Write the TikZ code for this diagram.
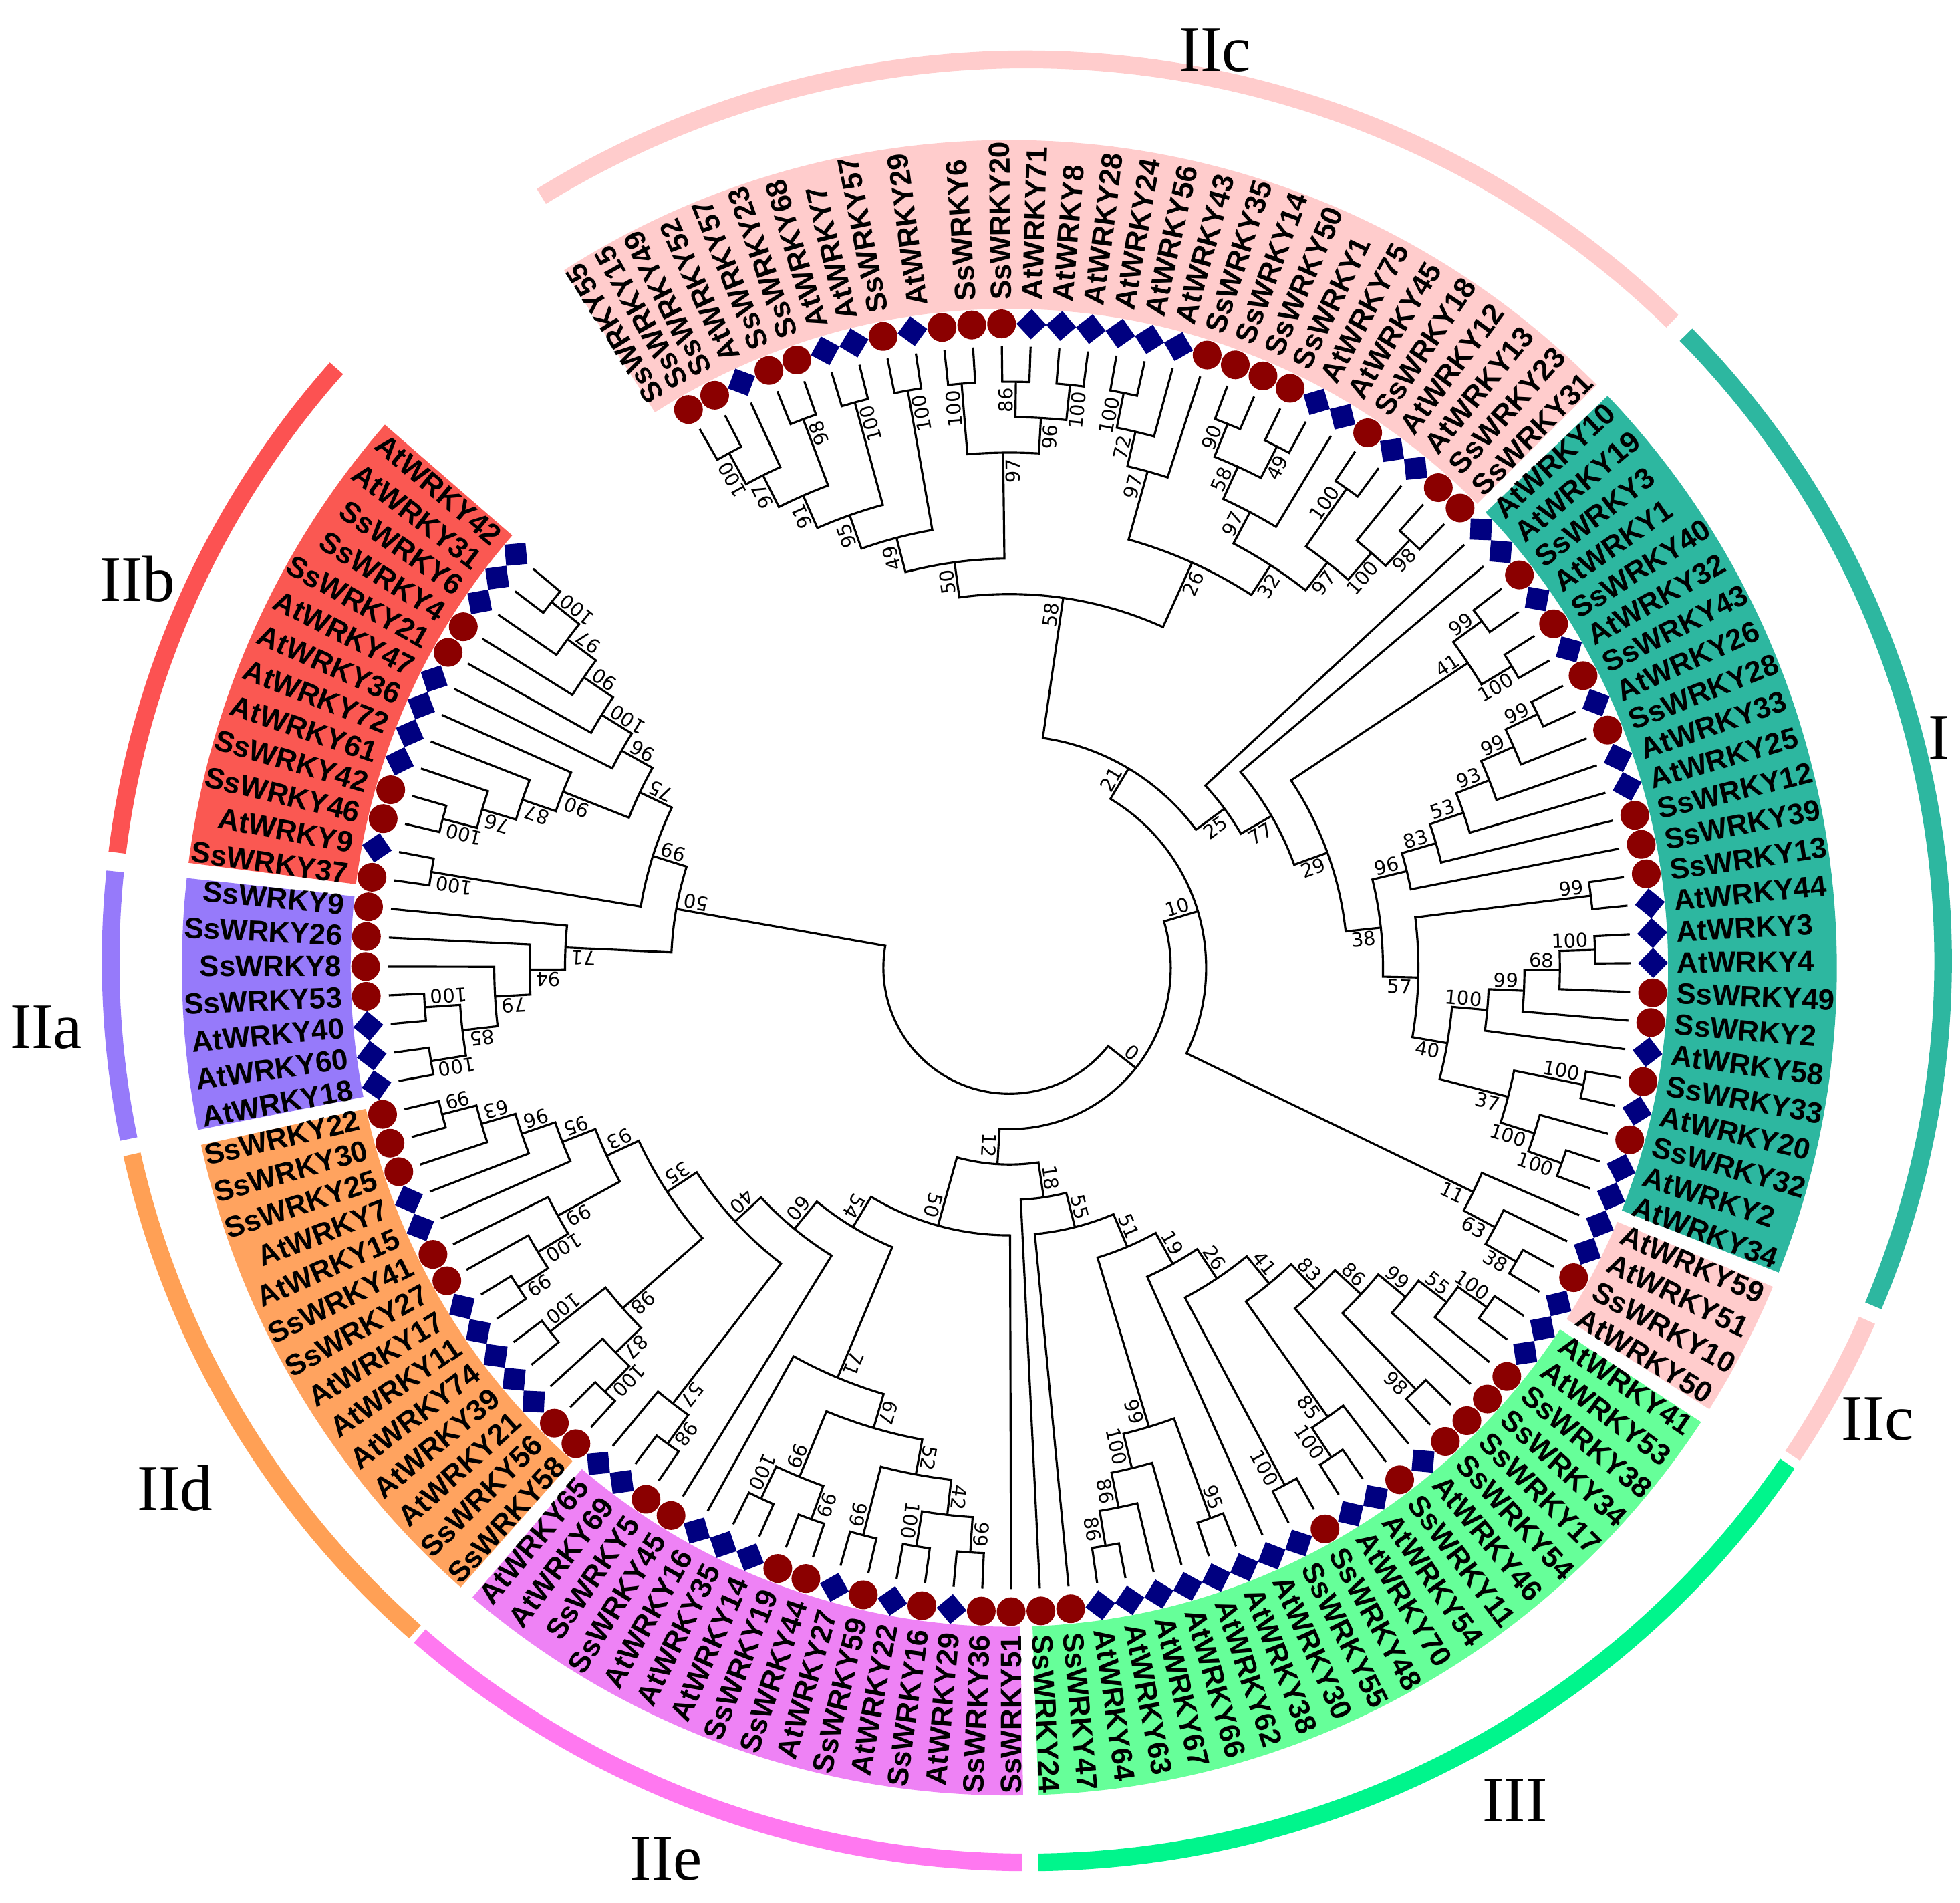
\documentclass[tikz,border=0pt]{standalone}
\usepackage{fontspec}
\usepackage{tikz}
\newfontfamily\lblfont{Liberation Sans}
\newfontfamily\bsfont{DejaVu Sans}
\newfontfamily\grpfont{Liberation Serif}

\definecolor{ssred}{RGB}{139,0,0}
\definecolor{atblue}{RGB}{0,0,128}
\definecolor{bandIIc}{RGB}{255,204,204}
\definecolor{bandI}{RGB}{45,183,160}
\definecolor{bandIII}{RGB}{102,255,153}
\definecolor{bandIIe}{RGB}{238,130,245}
\definecolor{bandIId}{RGB}{255,163,95}
\definecolor{bandIIa}{RGB}{150,122,250}
\definecolor{bandIIb}{RGB}{250,88,82}
\definecolor{ringIIc}{RGB}{255,204,204}
\definecolor{ringI}{RGB}{45,183,160}
\definecolor{ringIII}{RGB}{0,245,140}
\definecolor{ringIIe}{RGB}{255,120,240}
\definecolor{ringIId}{RGB}{255,160,85}
\definecolor{ringIIa}{RGB}{150,122,250}
\definecolor{ringIIb}{RGB}{252,82,82}

\tikzset{
  branch/.style={line width=1.2pt},
  boot/.style={font=\bsfont\fontsize{11}{12}\selectfont, inner sep=1.2pt},
  leaflab/.style={font=\lblfont\bfseries\fontsize{16.7}{18}\selectfont, inner sep=0pt},
  grp/.style={font=\grpfont\fontsize{37}{40}\selectfont, inner sep=0pt},
  ring/.style={line width=10pt},
}

% tips sit on one circle, clades step inwards by height
\newcommand\tipR{497}
\newcommand\hstep{28.3}
\newcommand\leafang[1]{\fpeval{round(119.9-2.655*(#1),4)}}

\newcommand\bootlab[2]{%
  \ifcsname B@#1\endcsname
    \edef\trLA{\csname A@#1\endcsname}%
    \edef\trLR{\fpeval{\csname R@#1\endcsname-3}}%
    \node[boot, rotate=\trLA, anchor=#2] at (\trLA:\trLR) {\csname B@#1\endcsname};%
  \fi}

\newcommand\clade[4]{%
  \edef\trA{\csname A@#2\endcsname}%
  \edef\trB{\csname A@#3\endcsname}%
  \edef\trH{\fpeval{max(\csname H@#2\endcsname,\csname H@#3\endcsname)+1}}%
  \edef\trR{\fpeval{round(\tipR-\hstep*\trH,3)}}%
  \edef\trM{\fpeval{round((\trA+\trB)/2,4)}}%
  \draw[branch] (#2) -- (\trA:\trR) arc[start angle=\trA, end angle=\trB, radius=\trR] -- (#3);
  \coordinate (#1) at (\trM:\trR);
  \bootlab{#2}{south east}\bootlab{#3}{north east}%
  \expandafter\xdef\csname A@#1\endcsname{\trM}%
  \expandafter\xdef\csname H@#1\endcsname{\trH}%
  \expandafter\xdef\csname R@#1\endcsname{\trR}%
  \expandafter\xdef\csname B@#1\endcsname{#4}}

\begin{document}
\begin{tikzpicture}[x=0.25mm,y=0.25mm]
\useasboundingbox (-807.5,-748) rectangle (760.5,774);

%------------------------------------- label bands
\foreach \p/\q/\c in {-1.0/28.3/bandIIc, 28.7/53.3/bandI, 53.7/57.3/bandIIc,
    57.7/78.3/bandIII, 78.7/94.3/bandIIe, 94.7/108.3/bandIId,
    108.7/115.3/bandIIa, 115.7/128.4/bandIIb}{
  \edef\trP{\leafang{\p}}\edef\trQ{\leafang{\q}}
  \fill[fill=\c] (\trP:527) arc[start angle=\trP, end angle=\trQ, radius=527]
    -- (\trQ:662) arc[start angle=\trQ, end angle=\trP, radius=662] -- cycle;
}

%------------------------------------- outer rings
\begin{scope}[shift={(14,5.5)}]
\foreach \p/\q/\c in {122/45.2/ringIIc, 44/-22.5/ringI, -23.5/-33.3/ringIIc,
    -33.9/-89.3/ringIII, -90.3/-131.5/ringIIe, -131.9/-167.6/ringIId,
    -168.6/-185.7/ringIIa, -186.9/-221.1/ringIIb}
  \draw[ring, draw=\c] (\p:733 and 721) arc[start angle=\p, end angle=\q, x radius=733, y radius=721];
\end{scope}

\node[grp] (gIIcA) at (164.5,734) {IIc};
\node[grp] (gI)    at (743.5,184) {I};
\node[grp] (gIIcB) at (694.5,-361) {IIc};
\node[grp] (gIII)  at (404.5,-666) {III};
\node[grp] (gIIe)  at (-274.5,-713) {IIe};
\node[grp] (gIId)  at (-667.5,-416) {IId};
\node[grp] (gIIa)  at (-770.5,-48) {IIa};
\node[grp] (gIIb)  at (-697.5,311) {IIb};

%------------------------------------- tips and markers
\foreach \m [count=\i from 0] in {c,c,d,c,c,d,d,c,d,c,c,c,d,d,d,d,d,d,c,c,c,c,d,d,c,d,d,c,c,
    d,d,c,d,c,d,c,d,c,d,d,c,c,c,d,d,d,c,c,d,c,d,c,d,d,
    d,d,c,d,
    d,d,c,c,c,c,d,c,d,d,c,d,d,d,d,d,d,d,d,c,c,
    c,c,d,c,d,c,d,c,c,d,d,d,c,c,d,d,
    c,c,d,d,d,d,d,c,c,d,d,c,c,c,
    d,d,d,c,c,c,c,
    c,d,c,c,d,d,d,d,c,c,d,d,d}{
  \edef\trT{\leafang{\i}}
  \expandafter\xdef\csname A@t\i\endcsname{\trT}
  \expandafter\xdef\csname H@t\i\endcsname{0}
  \coordinate (t\i) at (\trT:\tipR);
  \if c\m
    \fill[ssred] (\trT:515) circle[radius=11.5];
  \else
    \fill[atblue, shift={(\trT:515)}, rotate=\trT] (12,0) -- (0,12) -- (-12,0) -- (0,-12) -- cycle;
  \fi
}

%------------------------------------- leaf names
\foreach \s/\lab in {-0.75/SsWRKY55, 0.15/SsWRKY15, 1.0/SsWRKY49, 2/AtWRKY52, 3/SsWRKY57,
    4/SsWRKY23, 5/AtWRKY68, 6/AtWRKY7, 7/SsWRKY57, 8.3/AtWRKY29, 9.85/SsWRKY6,
    11/SsWRKY20, 12/AtWRKY71, 13/AtWRKY8, 14/AtWRKY28, 15/AtWRKY24, 16/AtWRKY56,
    17/AtWRKY43, 18/SsWRKY35, 19/SsWRKY14, 20/SsWRKY50, 21/SsWRKY1, 22/AtWRKY75,
    23/AtWRKY45, 24/SsWRKY18, 25/AtWRKY12, 26/AtWRKY13, 27/SsWRKY23, 28/SsWRKY31,
    29/AtWRKY10, 30/AtWRKY19, 31/SsWRKY3, 32/AtWRKY1, 33/SsWRKY40, 34/AtWRKY32,
    35/SsWRKY43, 36/AtWRKY26, 37/SsWRKY28, 38/AtWRKY33, 39/AtWRKY25, 40/SsWRKY12,
    41/SsWRKY39, 42/SsWRKY13, 43/AtWRKY44, 44/AtWRKY3, 45/AtWRKY4, 46/SsWRKY49,
    47/SsWRKY2, 48/AtWRKY58, 49/SsWRKY33, 50/AtWRKY20, 51/SsWRKY32, 52/AtWRKY2,
    53/AtWRKY34, 54/AtWRKY59, 55/AtWRKY51, 56/SsWRKY10, 57/AtWRKY50,
    58/AtWRKY41, 59/AtWRKY53, 60/SsWRKY38, 61/SsWRKY34, 62/SsWRKY17, 63/SsWRKY54,
    64/AtWRKY46, 65/SsWRKY11, 66/AtWRKY54, 67/AtWRKY70, 68/SsWRKY48, 69/SsWRKY55,
    70/AtWRKY30, 71/AtWRKY38, 72/AtWRKY62, 73/AtWRKY66, 74/AtWRKY67, 75/AtWRKY63,
    76/AtWRKY64, 77/SsWRKY47, 78/SsWRKY24,
    79/SsWRKY51, 80/SsWRKY36, 81/AtWRKY29, 82/SsWRKY16, 83/AtWRKY22, 84/SsWRKY59,
    85/AtWRKY27, 86/SsWRKY44, 87/SsWRKY19, 88/AtWRKY14, 89/AtWRKY35, 90/AtWRKY16,
    91/SsWRKY45, 92/SsWRKY5, 93/AtWRKY69, 94/AtWRKY65,
    95/SsWRKY58, 96/SsWRKY56, 97/AtWRKY21, 98/AtWRKY39, 99/AtWRKY74, 100/AtWRKY11,
    101/AtWRKY17, 102/SsWRKY27, 103/SsWRKY41, 104/AtWRKY15, 105/AtWRKY7,
    106/SsWRKY25, 107/SsWRKY30, 108/SsWRKY22,
    109/AtWRKY18, 110/AtWRKY60, 111/AtWRKY40, 112/SsWRKY53, 113/SsWRKY8,
    114/SsWRKY26, 115/SsWRKY9,
    116/SsWRKY37, 117/AtWRKY9, 118/SsWRKY46, 119/SsWRKY42, 120/AtWRKY61,
    121/AtWRKY72, 122/AtWRKY36, 123/AtWRKY47, 124/SsWRKY21, 125/SsWRKY4,
    126/SsWRKY6, 127/AtWRKY31, 128/AtWRKY42}{
  \edef\trT{\leafang{\s}}
  \ifdim \s pt<78.5pt
    \node[leaflab, rotate=\trT, anchor=west] at (\trT:534) {\lab};
  \else
    \node[leaflab, rotate=\trT+180, anchor=east] at (\trT:534) {\lab};
  \fi
}

%------------------------------------- IIc (top)
\clade{c100a}{t0}{t1}{100}
\clade{c97a}{c100a}{t2}{97}
\clade{c98a}{t3}{t4}{98}
\clade{c91}{c97a}{c98a}{91}
\clade{c100b}{t5}{t6}{100}
\clade{c95a}{c91}{c100b}{95}
\clade{c100c}{t7}{t8}{100}
\clade{c49a}{c95a}{c100c}{49}
\clade{c100f}{t9}{t10}{100}
\clade{c86a}{t11}{t12}{86}
\clade{c100d}{t13}{t14}{100}
\clade{c96a}{c86a}{c100d}{96}
\clade{c97b}{c100f}{c96a}{97}
\clade{c50a}{c49a}{c97b}{50}
\clade{c100e}{t15}{t16}{100}
\clade{c72}{c100e}{t17}{72}
\clade{c97c}{c72}{t18}{97}
\clade{c90a}{t19}{t20}{90}
\clade{c49b}{t21}{t22}{49}
\clade{c58b}{c90a}{c49b}{58}
\clade{c97d}{c58b}{t23}{97}
\clade{c100g}{t24}{t25}{100}
\clade{c98b}{t27}{t28}{98}
\clade{c100h}{t26}{c98b}{100}
\clade{c97e}{c100g}{c100h}{97}
\clade{c32}{c97d}{c97e}{32}
\clade{c26a}{c97c}{c32}{26}
\clade{c58a}{c50a}{c26a}{58}

%------------------------------------- I
\clade{c99a}{t31}{t32}{99}
\clade{c100i}{t33}{t34}{100}
\clade{c41a}{c99a}{c100i}{41}
\clade{c99b}{t35}{t36}{99}
\clade{c99c}{c99b}{t37}{99}
\clade{c93a}{c99c}{t38}{93}
\clade{c53}{c93a}{t39}{53}
\clade{c83a}{c53}{t40}{83}
\clade{c96b}{c83a}{t41}{96}
\clade{c99d}{t42}{t43}{99}
\clade{c100j}{t44}{t45}{100}
\clade{c68}{c100j}{t46}{68}
\clade{c99e}{c68}{t47}{99}
\clade{c100k}{c99e}{t48}{100}
\clade{c100l}{t49}{t50}{100}
\clade{c100n}{t52}{t53}{100}
\clade{c100m}{t51}{c100n}{100}
\clade{c37}{c100l}{c100m}{37}
\clade{c40a}{c100k}{c37}{40}
\clade{c57a}{c99d}{c40a}{57}
\clade{c38a}{c96b}{c57a}{38}
\clade{c29}{c41a}{c38a}{29}
\clade{c77}{t30}{c29}{77}
\clade{c25}{t29}{c77}{25}
\clade{c21}{c58a}{c25}{21}

%------------------------------------- IIc (right)
\clade{c38b}{t56}{t57}{38}
\clade{c63a}{t55}{c38b}{63}
\clade{c11}{t54}{c63a}{11}
\clade{c10}{c21}{c11}{10}

%------------------------------------- III
\clade{c100o}{t58}{t59}{100}
\clade{c55a}{c100o}{t60}{55}
\clade{c99f}{c55a}{t61}{99}
\clade{c98c}{t62}{t63}{98}
\clade{c86b}{c99f}{c98c}{86}
\clade{c83b}{c86b}{t64}{83}
\clade{c100p}{t66}{t67}{100}
\clade{c85a}{t65}{c100p}{85}
\clade{c41b}{c83b}{c85a}{41}
\clade{c100q}{t68}{t69}{100}
\clade{c26b}{c41b}{c100q}{26}
\clade{c19}{c26b}{t70}{19}
\clade{c95b}{t71}{t72}{95}
\clade{c86c}{t75}{t76}{86}
\clade{c86d}{t74}{c86c}{86}
\clade{c100r}{t73}{c86d}{100}
\clade{c99g}{c95b}{c100r}{99}
\clade{c51}{c19}{c99g}{51}
\clade{c55b}{c51}{t77}{55}
\clade{c18}{c55b}{t78}{18}

%------------------------------------- IIe
\clade{c99m}{t80}{t81}{99}
\clade{c100ab}{t82}{t83}{100}
\clade{c42}{c99m}{c100ab}{42}
\clade{c99n}{t84}{t85}{99}
\clade{c52}{c42}{c99n}{52}
\clade{c99o}{t86}{t87}{99}
\clade{c100ac}{t88}{t89}{100}
\clade{c99p}{c99o}{c100ac}{99}
\clade{c67}{c52}{c99p}{67}
\clade{c71a}{c67}{t90}{71}
\clade{c98d}{t92}{t93}{98}
\clade{c57b}{c98d}{t94}{57}

%------------------------------------- IId
\clade{c100aa}{t95}{t96}{100}
\clade{c87a}{c100aa}{t97}{87}
\clade{c100z}{t98}{t99}{100}
\clade{c98e}{c87a}{c100z}{98}
\clade{c99k}{t100}{t101}{99}
\clade{c100y}{c99k}{t102}{100}
\clade{c99j}{c100y}{t103}{99}
\clade{c99i}{t107}{t108}{99}
\clade{c63b}{t106}{c99i}{63}
\clade{c96d}{t105}{c63b}{96}
\clade{c95c}{t104}{c96d}{95}
\clade{c93b}{c99j}{c95c}{93}
\clade{c35}{c98e}{c93b}{35}
\clade{c40b}{c57b}{c35}{40}
\clade{c60}{t91}{c40b}{60}
\clade{c54}{c71a}{c60}{54}
\clade{c50b}{t79}{c54}{50}
\clade{c12}{c18}{c50b}{12}
\clade{c0}{c10}{c12}{0}

%------------------------------------- IIa / IIb
\clade{c100x}{t109}{t110}{100}
\clade{c100w}{t111}{t112}{100}
\clade{c85b}{c100x}{c100w}{85}
\clade{c79}{c85b}{t113}{79}
\clade{c94}{c79}{t114}{94}
\clade{c71b}{c94}{t115}{71}
\clade{c100v}{t116}{t117}{100}
\clade{c100u}{t118}{t119}{100}
\clade{c76}{c100u}{t120}{76}
\clade{c87b}{c76}{t121}{87}
\clade{c90b}{c87b}{t122}{90}
\clade{c100s}{t127}{t128}{100}
\clade{c97f}{t126}{c100s}{97}
\clade{c90c}{t125}{c97f}{90}
\clade{c100t}{t124}{c90c}{100}
\clade{c96c}{t123}{c100t}{96}
\clade{c75}{c90b}{c96c}{75}
\clade{c99h}{c100v}{c75}{99}
\clade{c50c}{c71b}{c99h}{50}

\clade{root}{c0}{c50c}{}
\end{tikzpicture}
\end{document}
